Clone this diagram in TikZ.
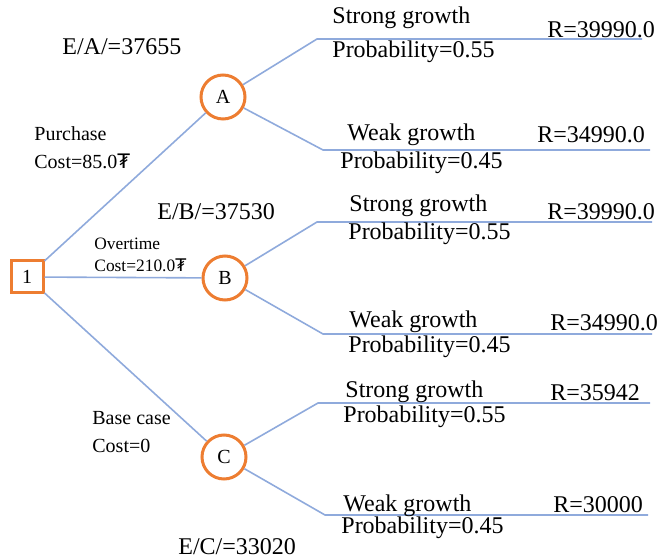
\documentclass[tikz,border=0pt]{standalone}
\usepackage{fontspec}
\setmainfont{Liberation Serif}
\newfontfamily\tugfont{DejaVu Sans}
\usetikzlibrary{positioning}
\definecolor{nodeorange}{RGB}{237,125,49}
\definecolor{lineblue}{RGB}{143,170,220}

\begin{document}
\begin{tikzpicture}[
    x=0.5pt, y=-0.5pt,
    decision/.style={draw=nodeorange, line width=1.5pt, minimum size=16pt, inner sep=0pt, font=\fontsize{10}{12}\selectfont},
    chance/.style={circle, draw=nodeorange, line width=1.5pt, minimum size=22pt, inner sep=0pt, font=\fontsize{10}{12}\selectfont},
    branch/.style={draw=lineblue, line width=0.8pt},
    lbl/.style={anchor=west, inner sep=0pt, font=\fontsize{12}{14}\selectfont},
    cost/.style={anchor=west, inner sep=0pt, align=left, font=\fontsize{10}{14}\selectfont},
    small/.style={anchor=west, inner sep=0pt, align=left, font=\fontsize{8.7}{11}\selectfont}
]
\useasboundingbox (0,0) rectangle (662,560);

% decision and chance nodes
\node[decision] (d1) at (27,277) {1};
\node[chance] (a) at (223,97) {A};
\node[chance] (b) at (225,278) {B};
\node[chance] (c) at (224,457) {C};

% branch corners and ends
\coordinate (a1) at (317,39);  \coordinate (a1e) at (642,39);
\coordinate (a2) at (323,150); \coordinate (a2e) at (650,150);
\coordinate (b1) at (317,222); \coordinate (b1e) at (652,222);
\coordinate (b2) at (323,334); \coordinate (b2e) at (652,334);
\coordinate (c1) at (318,403); \coordinate (c1e) at (650,403);
\coordinate (c2) at (325,515); \coordinate (c2e) at (648,515);

\draw[branch] (d1) -- (a);
\draw[branch] (d1) -- (b);
\draw[branch] (d1) -- (c);
\draw[branch] (a) -- (a1) -- (a1e);
\draw[branch] (a) -- (a2) -- (a2e);
\draw[branch] (b) -- (b1) -- (b1e);
\draw[branch] (b) -- (b2) -- (b2e);
\draw[branch] (c) -- (c1) -- (c1e);
\draw[branch] (c) -- (c2) -- (c2e);

% expected values
\node[lbl] (ea) at (62,47) {E/A/=37655};
\node[lbl] (eb) at (157,212) {E/B/=37530};
\node[lbl] (ec) at (178,547) {E/C/=33020};

% alternatives
\node[cost] (pa) at (34,148) {Purchase\\Cost=85.0{\tugfont ₮}};
\node[small] (pb) at (94,255) {Overtime\\Cost=210.0{\tugfont ₮}};
\node[cost] (pc) at (92,432) {Base case\\Cost=0};

% outcomes of A
\node[lbl] (as) at (332,18) {Strong growth};
\node[lbl] (ap1) at (332,52) {Probability=0.55};
\node[lbl] (ar1) at (547,30) {R=39990.0};
\node[lbl] (aw) at (347,135) {Weak growth};
\node[lbl] (ap2) at (340,163) {Probability=0.45};
\node[lbl] (ar2) at (537,135) {R=34990.0};

% outcomes of B
\node[lbl] (bs) at (349,206) {Strong growth};
\node[lbl] (bp1) at (348,234) {Probability=0.55};
\node[lbl] (br1) at (547,212) {R=39990.0};
\node[lbl] (bw) at (349,322) {Weak growth};
\node[lbl] (bp2) at (348,347) {Probability=0.45};
\node[lbl] (br2) at (550,323) {R=34990.0};

% outcomes of C
\node[lbl] (cs) at (345,392) {Strong growth};
\node[lbl] (cp1) at (343,417) {Probability=0.55};
\node[lbl] (cr1) at (550,393) {R=35942};
\node[lbl] (cw) at (343,506) {Weak growth};
\node[lbl] (cp2) at (341,528) {Probability=0.45};
\node[lbl] (cr2) at (553,505) {R=30000};
\end{tikzpicture}
\end{document}
